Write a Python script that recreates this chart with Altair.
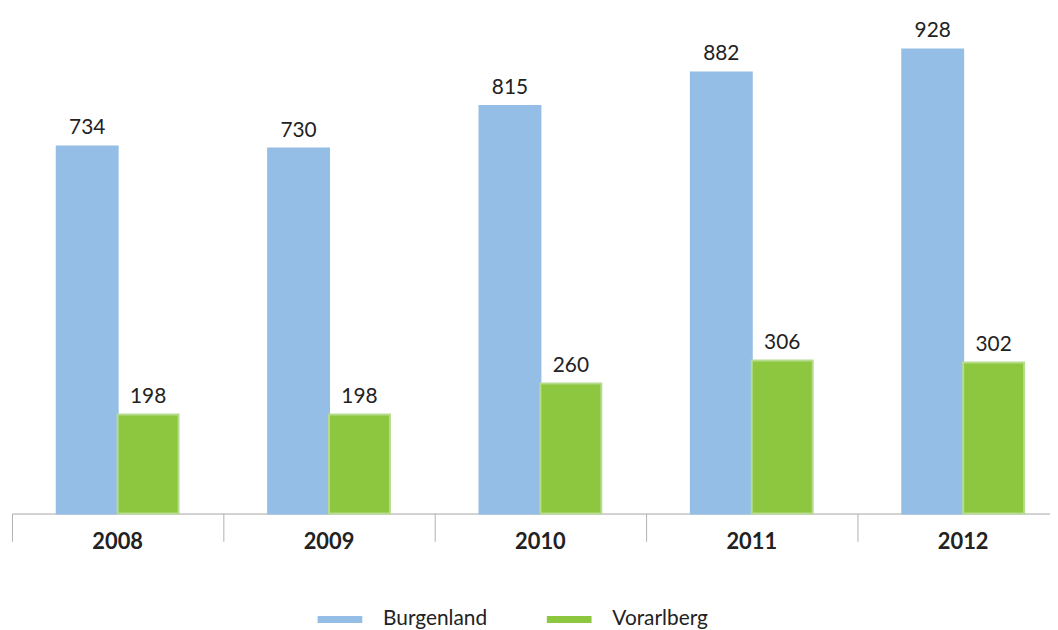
import altair as alt
import pandas as pd

years = ["2008", "2009", "2010", "2011", "2012"]
series = ["Burgenland", "Vorarlberg"]
burgenland = [734, 730, 815, 882, 928]
vorarlberg = [198, 198, 260, 306, 302]

rows = []
for i, y in enumerate(years):
    rows.append({"year": y, "series": "Burgenland", "value": burgenland[i]})
    rows.append({"year": y, "series": "Vorarlberg", "value": vorarlberg[i]})
df = pd.DataFrame(rows)

FONT = "Lato"

base = alt.Chart(df).encode(
    x=alt.X(
        "year:N",
        sort=years,
        scale=alt.Scale(range=[0, 1065], paddingInner=0, paddingOuter=0),
        axis=alt.Axis(
            title=None,
            labelAngle=0,
            bandPosition=0,
            domainColor="#a6a6a6",
            domainWidth=1,
            tickColor="#b0b0b0",
            tickWidth=1,
            tickSize=28,
            labelFont=FONT,
            labelFontSize=22,
            labelFontWeight="bold",
            labelColor="#222222",
            labelBaseline="alphabetic",
            labelPadding=7,
        ),
    ),
    xOffset=alt.XOffset(
        "series:N", sort=series, scale=alt.Scale(paddingOuter=0.735, paddingInner=0)
    ),
    y=alt.Y("value:Q", scale=alt.Scale(domain=[0, 1000]), axis=None),
)

bars = base.mark_bar(strokeWidth=2).encode(
    color=alt.Color(
        "series:N",
        sort=series,
        scale=alt.Scale(domain=series, range=["#95bee6", "#8dc63f"]),
        legend=alt.Legend(title=None),
    ),
    stroke=alt.Stroke(
        "series:N",
        sort=series,
        scale=alt.Scale(domain=series, range=["#95bee6", "#b6dc8e"]),
        legend=None,
    ),
)

labels = base.mark_text(
    font=FONT, fontSize=21, color="#222222", baseline="alphabetic", dy=-12
).encode(text=alt.Text("value:Q"))

chart = (
    alt.layer(bars, labels)
    .properties(
        width=1046,
        height=504,
        padding={"left": 4, "top": 3, "right": 0, "bottom": 120},
        autosize="none",
    )
    .configure_view(stroke=None)
    .configure_legend(
        orient="none",
        legendX=308,
        legendY=588,
        direction="horizontal",
        symbolType="M-1,-0.16H1V0.16H-1Z",
        symbolSize=2025,
        symbolStrokeWidth=0,
        labelFont=FONT,
        labelFontSize=21,
        labelColor="#222222",
        labelOffset=21,
        columnPadding=60,
        padding=0,
    )
)

chart.save("out.html", embed_options={"renderer": "svg", "actions": False})
